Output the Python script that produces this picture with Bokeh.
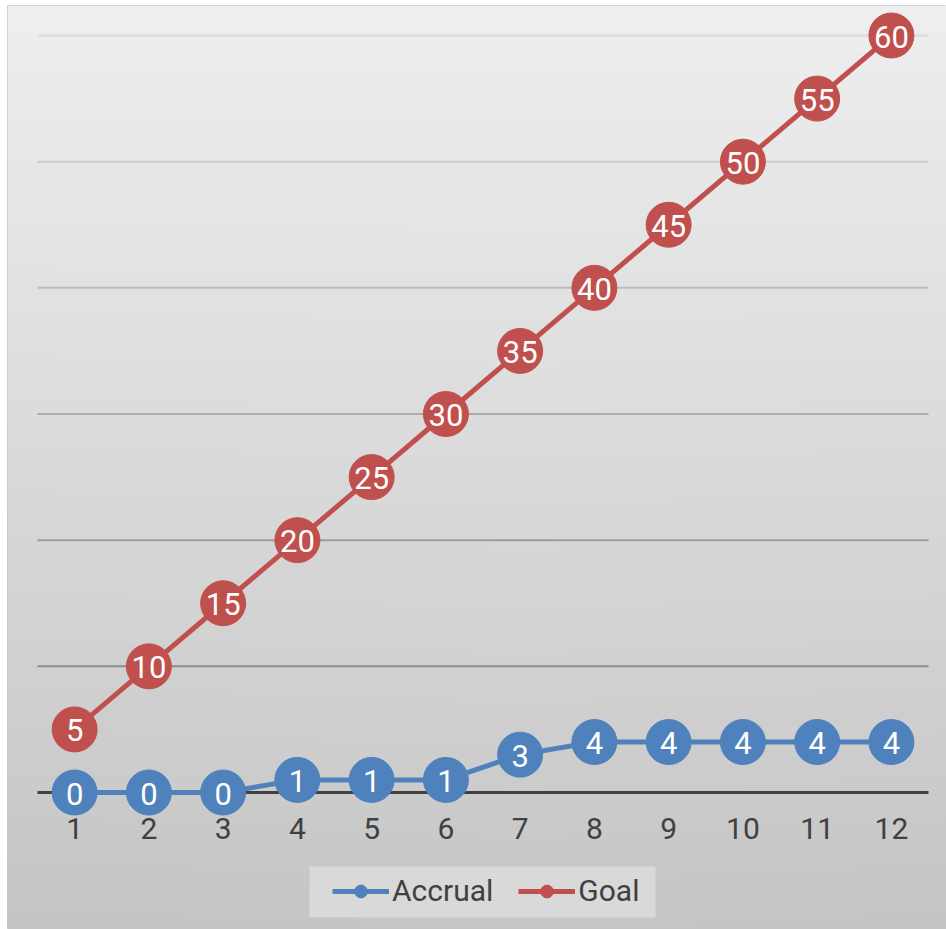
import numpy as np
from bokeh.plotting import figure
from bokeh.models import ColumnDataSource, FixedTicker, Legend, LegendItem, Range1d
from bokeh.core.properties import value
from bokeh.embed import file_html
from bokeh.resources import INLINE

# ---- data ----
periods = [1, 2, 3, 4, 5, 6, 7, 8, 9, 10, 11, 12]
tick_labels = ["1", "2", "3", "4", "5", "6", "7", "8", "9", "10", "11", "12"]
accrual = [0, 0, 0, 1, 1, 1, 3, 4, 4, 4, 4, 4]
goal = [5, 10, 15, 20, 25, 30, 35, 40, 45, 50, 55, 60]
grid_levels = [10, 20, 30, 40, 50, 60]

FONT = "Roboto"
BLUE = "#4f81bd"
RED = "#c0504d"
TEXT = "#404040"

W, H = 946, 929
ML, MT = 7, 5
x_range = Range1d(0.096, 12.742)
y_range = Range1d(-10.858, 62.378)

def px_x(px):
    return x_range.start + (px - ML) * (x_range.end - x_range.start) / (W - ML)

def px_y(py):
    return y_range.end - (py - MT) * (y_range.end - y_range.start) / (H - MT)

p = figure(width=W, height=H, x_range=x_range, y_range=y_range,
           output_backend="svg", toolbar_location=None,
           x_axis_location="below", y_axis_location=None,
           min_border_left=ML, min_border_top=MT, min_border_right=0, min_border_bottom=0)
p.border_fill_color = "white"
p.outline_line_color = "#c8c8c8"
p.outline_line_width = 1
p.xgrid.visible = False
p.ygrid.visible = False

# ---- gradient background ----
n, m = 232, 236
rows = np.linspace(0.0, 1.0, n)[:, None]          # 0 bottom -> 1 top
cols = np.linspace(0.0, 1.0, m)[None, :]
gray = 0xc6 + (0xef - 0xc6) * rows - 4 * np.abs(cols - 0.55) * (1 - rows) * 0.5
gray = np.clip(gray, 0, 255).astype(np.uint8)
img = np.empty((n, m), dtype=np.uint32)
view = img.view(dtype=np.uint8).reshape((n, m, 4))
view[..., 0] = gray
view[..., 1] = gray
view[..., 2] = gray
view[..., 3] = 255
bg = p.image_rgba(image=[img], x=x_range.start, y=y_range.start,
                  dw=x_range.end - x_range.start, dh=y_range.end - y_range.start)
bg.level = "image"

# ---- gridlines with gradient colour ----
def grid_color(lvl):
    g = int(0x8c + (0xdc - 0x8c) * (lvl - 10) / 50.0)
    return "#%02x%02x%02x" % (g, g, g)

gsrc = ColumnDataSource(dict(y=grid_levels,
                             x0=[periods[0] - 0.5] * len(grid_levels),
                             x1=[periods[-1] + 0.5] * len(grid_levels),
                             c=[grid_color(v) for v in grid_levels]))
gr = p.segment(x0="x0", x1="x1", y0="y", y1="y", line_color="c", line_width=2, source=gsrc)
gr.level = "underlay"

# ---- legend background panel ----
lb = p.quad(left=px_x(309), right=px_x(655), top=px_y(866), bottom=px_y(917),
            fill_color="#d9d9d9", line_color=None)
lb.level = "underlay"

# ---- x axis at zero ----
ax = p.xaxis[0]
ax.level = "underlay"
ax.fixed_location = 0
ax.bounds = (periods[0] - 0.5, periods[-1] + 0.5)
ax.ticker = FixedTicker(ticks=periods)
ax.major_label_overrides = {p_: l for p_, l in zip(periods, tick_labels)}
ax.axis_line_color = TEXT
ax.axis_line_width = 3
ax.major_tick_line_color = None
ax.minor_tick_line_color = None
ax.major_tick_out = 0
ax.major_tick_in = 0
ax.major_label_standoff = 25
ax.major_label_text_font = FONT
ax.major_label_text_font_size = "30px"
ax.major_label_text_color = TEXT

# ---- series ----
src_a = ColumnDataSource(dict(x=periods, y=accrual, t=[str(v) for v in accrual]))
src_g = ColumnDataSource(dict(x=periods, y=goal, t=[str(v) for v in goal]))

la = p.line("x", "y", source=src_a, line_color=BLUE, line_width=5)
sa = p.scatter("x", "y", source=src_a, size=45, fill_color=BLUE, line_color=BLUE)
lg = p.line("x", "y", source=src_g, line_color=RED, line_width=5)
sg = p.scatter("x", "y", source=src_g, size=45, fill_color=RED, line_color=RED)

for src in (src_a, src_g):
    p.text("x", "y", text="t", source=src, text_color="white",
           text_font=value(FONT), text_font_size="31px", text_font_style="normal",
           text_align="center", text_baseline="middle", y_offset=1)

# ---- legend ----
legend = Legend(items=[LegendItem(label="Accrual", renderers=[la, sa]),
                       LegendItem(label="Goal", renderers=[lg, sg])],
                orientation="horizontal", location=(325, 21),
                glyph_width=57, glyph_height=32, label_standoff=3, spacing=25,
                padding=0, margin=0, label_height=32,
                label_text_font=FONT, label_text_font_size="30px",
                label_text_color=TEXT,
                background_fill_alpha=0.0,
                border_line_color=None)
p.add_layout(legend)

open("out.html", "w").write(file_html(p, INLINE))
